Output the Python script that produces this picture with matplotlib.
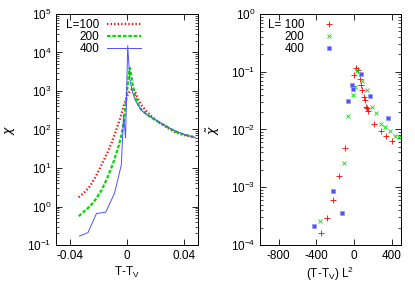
import numpy as np
import matplotlib
matplotlib.use('Agg')
import matplotlib.pyplot as plt
from matplotlib.ticker import LogLocator, FixedLocator, FixedFormatter, NullFormatter

plt.rcParams['font.family'] = ['Liberation Sans', 'DejaVu Sans']
plt.rcParams['mathtext.fontset'] = 'dejavusans'
plt.rcParams['axes.unicode_minus'] = False

# left panel: chi vs T-Tv
x100 = [-0.034, -0.030, -0.026, -0.022, -0.018, -0.014, -0.010, -0.006, -0.004, -0.002,
        0.000, 0.002, 0.004, 0.006, 0.008, 0.010, 0.014, 0.018, 0.022, 0.026,
        0.030, 0.034, 0.038, 0.042, 0.046, 0.048]
chi100 = [1.74, 2.34, 3.39, 6.0, 12.0, 24, 54, 145, 240, 437,
          724, 1000, 1175, 891, 603, 437, 288, 209, 158, 126,
          102, 85, 76, 69, 65, 62]

x200 = [-0.034, -0.030, -0.026, -0.022, -0.018, -0.014, -0.010, -0.006, -0.004, -0.002,
        0.000, 0.001, 0.002, 0.003, 0.004, 0.006, 0.008, 0.010, 0.014, 0.018,
        0.022, 0.026, 0.030, 0.034, 0.038, 0.042, 0.046, 0.048]
chi200 = [0.56, 0.76, 1.02, 1.55, 2.63, 5.4, 12.6, 36, 69, 178,
          955, 2240, 3980, 2510, 1445, 692, 437, 331, 245, 195,
          158, 132, 107, 89, 78, 71, 65, 62]

x400 = [-0.0335, -0.0275, -0.0215, -0.0150, -0.0088, -0.0040, -0.0024, -0.0010, 0.0005, 0.0020,
        0.0040, 0.0060, 0.010, 0.014, 0.020, 0.026, 0.032, 0.038, 0.044, 0.048]
chi400 = [0.17, 0.21, 0.66, 0.71, 2.2, 12, 240, 60, 15000, 2000,
          900, 560, 320, 240, 180, 130, 100, 80, 68, 62]

# right panel: scaled chi vs (T-Tv) L^2
sx100 = [18, 39, 0, 64, 74, -7, 85, 106, 117, 131, 142, 152, 216, 284, 340, 408,
         -96, -160, -220, -284, -351]
sy100 = [0.114, 0.109, 0.087, 0.076, 0.060, 0.056, 0.048, 0.036, 0.032, 0.025, 0.024,
         0.021, 0.0126, 0.0095, 0.0076, 0.0062, 0.0048, 0.00155, 0.00059, 0.000295, 0.000162]

sx200 = [28, 88, 11, -14, 135, -61, 188, 234, 284, 330, 383, 436, 482, -112, -362]
sy200 = [0.102, 0.068, 0.054, 0.040, 0.048, 0.0174, 0.025, 0.0195, 0.0126, 0.0112,
         0.0095, 0.0076, 0.0074, 0.0026, 0.00026]

sx400 = [74, -25, -7, -67, 170, 365, -227, -128, -426]
sy400 = [0.093, 0.059, 0.051, 0.031, 0.038, 0.0158, 0.00087, 0.00036, 0.00021]

red = '#ff0000'
green = '#00dd00'
blue = '#5050ff'

fig = plt.figure(figsize=(4.15, 2.91), dpi=100)
ax1 = fig.add_axes([0.135, 0.158, 0.342, 0.794])
ax2 = fig.add_axes([0.6265, 0.158, 0.340, 0.794])

ax1.plot(x100, chi100, color=red, lw=1.6, ls=(0, (0.6, 1.0)), label='L=100')
ax1.plot(x200, chi200, color=green, lw=1.6, ls=(0, (1.6, 0.8)), label='200')
ax1.plot(x400, chi400, color=blue, lw=0.7, label='400')
ax1.set_yscale('log')
ax1.set_xlim(-0.05, 0.05)
ax1.set_ylim(1e-1, 1e5)
ax1.xaxis.set_major_locator(FixedLocator([-0.04, 0, 0.04]))
ax1.xaxis.set_major_formatter(FixedFormatter(['-0.04', '0', '0.04']))
ax1.set_xlabel(r'T-T$_\mathregular{V}$', fontsize=8.5, labelpad=2)
ax1.set_ylabel(r'$\chi$', fontsize=9, labelpad=7)

ax2.plot(sx100, sy100, ls='none', marker='+', ms=4, mew=0.6, color=red, label='L= 100')
ax2.plot(sx200, sy200, ls='none', marker='x', ms=3.2, mew=0.6, color=green, label='200')
ax2.plot(sx400, sy400, ls='none', marker='s', ms=3.5, mew=0.6, mfc=blue, mec='#9999ff', label='400')
ax2.set_yscale('log')
ax2.set_xlim(-1000, 500)
ax2.set_ylim(1e-4, 1e0)
ax2.xaxis.set_major_locator(FixedLocator([-800, -400, 0, 400]))
ax2.xaxis.set_major_formatter(FixedFormatter(['-800', '-400', '0', '400']))
ax2.set_xlabel(r'(T-T$_\mathregular{V}$) L$^\mathregular{2}$', fontsize=8.5, labelpad=2)
ax2.set_ylabel(r'$\tilde{\chi}$', fontsize=9, labelpad=6)

for ax, dx in ((ax1, 0.035), (ax2, 0.02)):
    ax.yaxis.set_major_locator(LogLocator(base=10, numticks=10))
    ax.yaxis.set_minor_locator(LogLocator(base=10, subs=np.arange(2, 10), numticks=10))
    ax.yaxis.set_minor_formatter(NullFormatter())
    ax.tick_params(which='both', direction='in', top=True, right=True, labelsize=8.5)
    ax.tick_params(which='major', length=4, width=0.6)
    ax.tick_params(which='minor', length=2, width=0.5)
    for s in ax.spines.values():
        s.set_linewidth(0.7)
    leg = ax.legend(loc='upper left', bbox_to_anchor=(dx, 1.0), frameon=False,
                    fontsize=8.5, markerfirst=False,
                    handlelength=2.9, handletextpad=0.6, labelspacing=0.0,
                    borderaxespad=0.3, borderpad=0.15)
    for t in leg.get_texts():
        t.set_ha('right')

fig.savefig('out.png', dpi=100)
